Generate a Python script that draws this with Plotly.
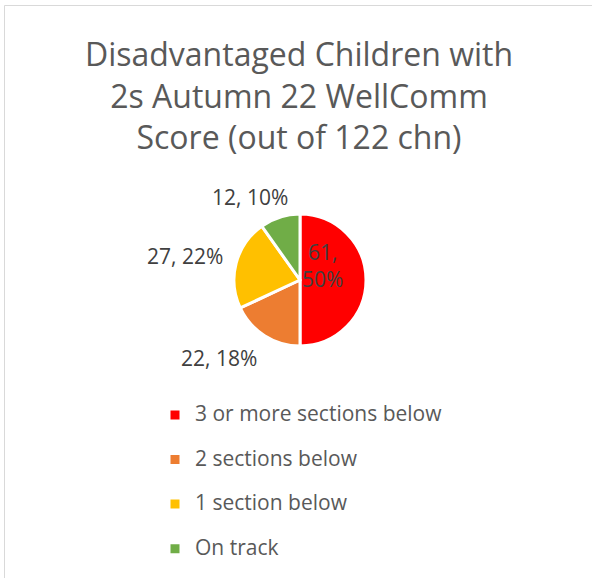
import plotly.graph_objects as go

# ---- data ----
categories = ["3 or more sections below", "2 sections below", "1 section below", "On track"]
counts = [61, 22, 27, 12]
colors = ["#FF0000", "#ED7D31", "#FFC000", "#70AD47"]
title_lines = ["Disadvantaged Children with", "2s Autumn 22 WellComm", "Score (out of 122 chn)"]

W, H = 592, 578
total = sum(counts)
pcts = [round(100 * c / total) for c in counts]

FONT = "Open Sans"

# legend labels: span for visible size, extra blank line (except last) for Excel-like spacing
legend_labels = [
    f"<span style='font-size:21px'>{c}</span>" + ("<br> " if i < len(categories) - 1 else "")
    for i, c in enumerate(categories)
]

fig = go.Figure()
fig.add_trace(go.Pie(
    labels=legend_labels,
    values=counts,
    sort=False,
    direction="clockwise",
    rotation=0,
    marker=dict(colors=colors, line=dict(color="white", width=3)),
    textinfo="none",
    hoverinfo="value+percent",
    domain=dict(x=[234 / W, 366 / W], y=[1 - 346 / H, 1 - 214 / H]),
    showlegend=True,
))

# data labels (Excel best-fit positions)
label_pos = [(322, 265), (219, 358), (185, 256), (250, 197)]
annotations = []
for i, (px, py) in enumerate(label_pos):
    sep = ",<br>" if i == 0 else ", "
    annotations.append(dict(
        text=f"{counts[i]}{sep}{pcts[i]}%",
        x=px / W, y=1 - py / H, xref="paper", yref="paper",
        xanchor="center", yanchor="middle", showarrow=False,
        font=dict(family=FONT, size=21, color="#404040"),
    ))

fig.update_layout(
    width=W, height=H,
    margin=dict(l=0, r=0, t=0, b=0, autoexpand=False),
    paper_bgcolor="white",
    plot_bgcolor="white",
    font=dict(family=FONT, color="#595959"),
    title=dict(
        text="<br>".join(title_lines),
        x=299 / W, xanchor="center", xref="paper",
        y=1 - 66 / H, yanchor="top", yref="container",
        font=dict(family=FONT, size=32, color="#595959"),
    ),
    legend=dict(
        x=155 / W, y=1 - 398 / H, xanchor="left", yanchor="top",
        valign="top",
        font=dict(family=FONT, size=16, color="#595959"),
        bgcolor="rgba(0,0,0,0)",
        traceorder="normal",
    ),
    annotations=annotations,
    shapes=[
        dict(type="line", xref="paper", yref="paper", x0=4.5 / W, x1=1.0, y0=1 - 5.5 / H, y1=1 - 5.5 / H,
             line=dict(color="#D9D9D9", width=1)),
        dict(type="line", xref="paper", yref="paper", x0=4.5 / W, x1=4.5 / W, y0=0, y1=1 - 5.5 / H,
             line=dict(color="#D9D9D9", width=1)),
    ],
)

fig.write_html("out.html", config={"displayModeBar": False},
               post_script="document.body.style.margin='0';")
